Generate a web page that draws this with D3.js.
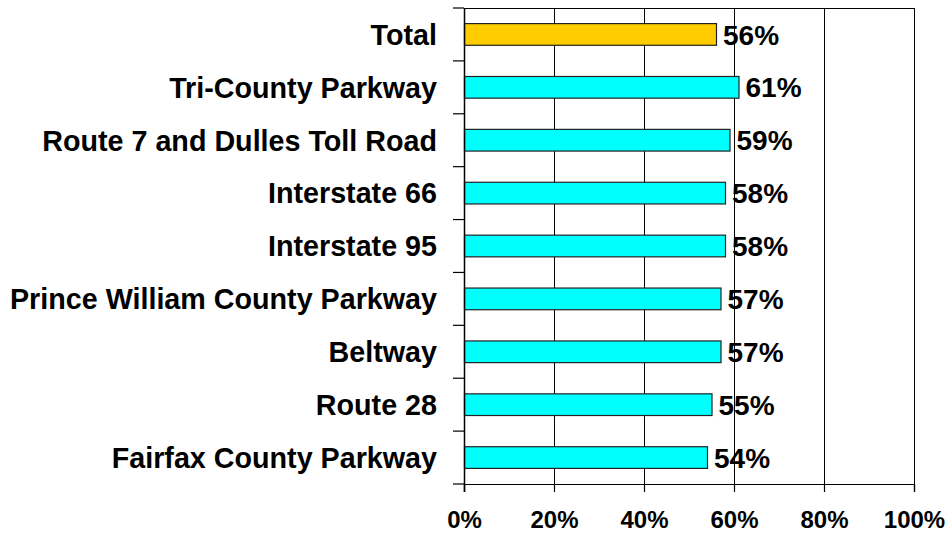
<!DOCTYPE html>
<html>
<head>
<meta charset="utf-8">
<script src="https://cdn.jsdelivr.net/npm/d3@7"></script>
<style>
  html, body { margin: 0; padding: 0; background: #fff; }
  text { font-family: "Liberation Sans", Arial, sans-serif; font-weight: bold; fill: #000; }
</style>
</head>
<body>
<svg id="chart" width="952" height="535"></svg>
<script>
// Share of respondents by corridor, top to bottom as listed
const categories = [
  "Total",
  "Tri-County Parkway",
  "Route 7 and Dulles Toll Road",
  "Interstate 66",
  "Interstate 95",
  "Prince William County Parkway",
  "Beltway",
  "Route 28",
  "Fairfax County Parkway"
];
const values = [56, 61, 59, 58, 58, 57, 57, 55, 54];
const barColors = ["#FFCC00", "#00FFFF", "#00FFFF", "#00FFFF", "#00FFFF", "#00FFFF", "#00FFFF", "#00FFFF", "#00FFFF"];
const xTicks = [0, 20, 40, 60, 80, 100];

const svg = d3.select("#chart");
const margin = { top: 8, right: 38, bottom: 51, left: 464 };
const W = 952, H = 535;
const innerW = W - margin.left - margin.right;
const innerH = H - margin.top - margin.bottom;

const g = svg.append("g").attr("transform", `translate(${margin.left},${margin.top})`);

const x = d3.scaleLinear().domain([0, 100]).range([0, innerW]);
const y = d3.scaleBand().domain(categories).range([0, innerH]).paddingInner(0.59).paddingOuter(0.295);

// Vertical gridlines
g.append("g")
  .selectAll("line")
  .data(xTicks.slice(1))
  .join("line")
  .attr("x1", d => Math.round(x(d)) + 0.5)
  .attr("x2", d => Math.round(x(d)) + 0.5)
  .attr("y1", 0)
  .attr("y2", innerH)
  .attr("stroke", "#000")
  .attr("stroke-width", 1);

// Top frame line
g.append("line")
  .attr("x1", 0).attr("x2", innerW)
  .attr("y1", 0.5).attr("y2", 0.5)
  .attr("stroke", "#000");

// Bars
g.append("g")
  .selectAll("rect")
  .data(values)
  .join("rect")
  .attr("x", 0.5)
  .attr("y", (d, i) => y(categories[i]))
  .attr("width", d => x(d))
  .attr("height", y.bandwidth())
  .attr("fill", (d, i) => barColors[i])
  .attr("stroke", "#222")
  .attr("stroke-width", 1.2);

// Value labels
g.append("g")
  .selectAll("text")
  .data(values)
  .join("text")
  .attr("x", d => x(d) + 7)
  .attr("y", (d, i) => y(categories[i]) + y.bandwidth() / 2)
  .attr("dy", "0.36em")
  .style("font-size", "28px")
  .text(d => d + "%");

// Bottom axis
const xAxis = g.append("g")
  .attr("transform", `translate(0,${innerH})`)
  .call(d3.axisBottom(x).tickValues(xTicks).tickFormat(d => d + "%").tickSize(8).tickPadding(19));
xAxis.select(".domain").attr("stroke", "#000").attr("stroke-width", 1.2);
xAxis.selectAll(".tick line").attr("stroke", "#000").attr("stroke-width", 1.2);
xAxis.selectAll(".tick text").style("font-size", "24px").attr("fill", "#000");

// Left axis: ticks sit on the band boundaries
const yAxis = g.append("g");
yAxis.append("line")
  .attr("x1", 0.5).attr("x2", 0.5)
  .attr("y1", 0).attr("y2", innerH + 8)
  .attr("stroke", "#000").attr("stroke-width", 1.5);
const step = innerH / categories.length;
yAxis.selectAll("line.bt")
  .data(d3.range(categories.length + 1))
  .join("line")
  .attr("class", "bt")
  .attr("x1", -11).attr("x2", 0)
  .attr("y1", i => i * step)
  .attr("y2", i => i * step)
  .attr("stroke", "#000").attr("stroke-width", 1.2);
yAxis.selectAll("text")
  .data(categories)
  .join("text")
  .attr("x", -27)
  .attr("y", d => y(d) + y.bandwidth() / 2)
  .attr("dy", "0.36em")
  .attr("text-anchor", "end")
  .style("font-size", "28.7px")
  .text(d => d);
</script>
</body>
</html>
